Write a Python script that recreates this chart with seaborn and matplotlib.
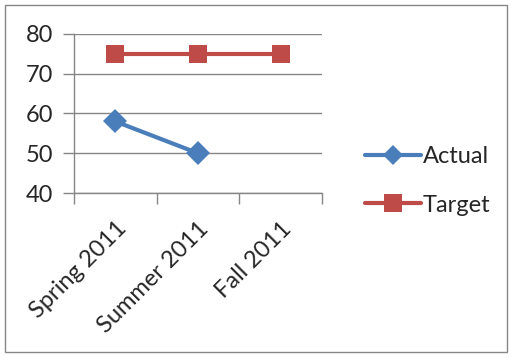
import matplotlib
matplotlib.use("Agg")
import matplotlib.pyplot as plt
import numpy as np
import pandas as pd
import seaborn as sns
from matplotlib.patches import Rectangle

# Data
terms = ["Spring 2011", "Summer 2011", "Fall 2011"]
actual = [58, 50, np.nan]
target = [75, 75, 75]
y_ticks = [40, 50, 60, 70, 80]

df = pd.DataFrame({
    "term": terms * 2,
    "value": actual + target,
    "series": ["Actual"] * 3 + ["Target"] * 3,
})

sns.set_theme(style="white")
plt.rcParams["font.family"] = ["Lato", "DejaVu Sans"]

fig = plt.figure(figsize=(5.12, 3.57), dpi=100)
ax = fig.add_axes([74 / 512, 1 - 193 / 357, (322 - 74) / 512, (193 - 34) / 357])

sns.lineplot(
    data=df, x="term", y="value", hue="series", style="series",
    palette={"Actual": "#4A7EBB", "Target": "#BE4B48"},
    markers={"Actual": "D", "Target": "s"}, dashes=False,
    linewidth=3, markersize=12.5, markeredgewidth=0, sort=False,
    legend=False, ax=ax,
)

ax.set_xlim(-0.5, 2.5)
ax.set_ylim(40, 80)
ax.set_yticks(y_ticks)
ax.yaxis.grid(True, color="#868686", linewidth=1)
ax.set_xlabel("")
ax.set_ylabel("")
for s in ["top", "right"]:
    ax.spines[s].set_visible(False)
for s in ["left", "bottom"]:
    ax.spines[s].set_color("#868686")
    ax.spines[s].set_linewidth(1)

ax.set_xticks([0, 1, 2])
ax.set_xticklabels(terms, rotation=45, ha="right", rotation_mode="anchor", fontsize=17)
ax.tick_params(axis="x", length=0, pad=18)
ax.set_xticks([-0.5, 0.5, 1.5, 2.5], minor=True)
ax.tick_params(axis="x", which="minor", length=8, color="#868686", width=1, bottom=True)
ax.tick_params(axis="y", length=8, color="#868686", width=1, left=True, labelsize=17, pad=7)

handles = [
    plt.Line2D([], [], color="#4A7EBB", lw=3, marker="D", markersize=10, markeredgewidth=0),
    plt.Line2D([], [], color="#BE4B48", lw=3, marker="s", markersize=12.5, markeredgewidth=0),
]
fig.legend(handles, ["Actual", "Target"], loc="center left", bbox_to_anchor=(344 / 512, 1 - 181 / 357),
           frameon=False, fontsize=17, handlelength=2.35, handletextpad=0.1, labelspacing=1.15)

fig.patches.append(Rectangle((5 / 512, 5 / 357), 502 / 512, 347 / 357, transform=fig.transFigure,
                             fill=False, edgecolor="#868686", linewidth=1))

fig.savefig("out.png", dpi=100)
